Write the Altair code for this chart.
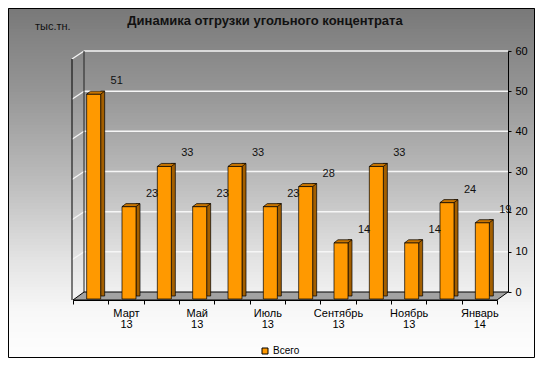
import json
import altair as alt
import pandas as pd

# ---- data ----
months = ["Февраль 13", "Март 13", "Апрель 13", "Май 13", "Июнь 13", "Июль 13",
          "Август 13", "Сентябрь 13", "Октябрь 13", "Ноябрь 13", "Декабрь 13", "Январь 14"]
values = [51, 23, 33, 23, 33, 23, 28, 14, 33, 14, 24, 19]
series_name = "Всего"
shown_labels = ["Март 13", "Май 13", "Июль 13", "Сентябрь 13", "Ноябрь 13", "Январь 14"]
y_ticks = [0, 10, 20, 30, 40, 50, 60]
grid_levels = [10, 20, 30, 40, 50, 60]
title_text = "Динамика отгрузки угольного  концентрата"
unit_text = "тыс.тн."

FONT = "Liberation Sans"
W, H = 424, 241
PAD = {"left": 65, "top": 43, "right": 38, "bottom": 66}
YMAX = 60.0

# background colour stops (pixel row of the picture -> grey level)
bg_stops = [(0, 0x76), (90, 0x95), (183, 0xbd), (257, 0xe2), (312, 0xf8), (367, 0xff)]


def grey_at(py):
    for (a, ca), (b, cb) in zip(bg_stops[:-1], bg_stops[1:]):
        if a <= py <= b:
            t = (py - a) / (b - a)
            g = int(round(ca + (cb - ca) * t))
            return "#%02x%02x%02x" % (g, g, g)
    return "#ffffff"


def px_to_val(py):
    return (H - py) / H * YMAX


strip_rows = []
step = 3
for py in range(-PAD["top"], H + PAD["bottom"], step):
    strip_rows.append({"v": px_to_val(py), "v2": px_to_val(min(py + step + 1, H + PAD["bottom"])),
                       "c": grey_at(py + PAD["top"] + 8 + step / 2)})
strips = pd.DataFrame(strip_rows)

bars = pd.DataFrame({"m": months, "v": values, "s": [series_name] * len(months)})
grid = pd.DataFrame({"v": grid_levels})
floor = pd.DataFrame({"v": [0]})
one = pd.DataFrame({"k": [0]})

yscale = alt.Scale(domain=[0, YMAX], nice=False)
xscale = alt.Scale(paddingInner=0, paddingOuter=0)

label_expr = "indexof(%s, datum.value) >= 0 ? split(datum.value, ' ') : ''" % json.dumps(
    shown_labels, ensure_ascii=False)

x_axis = alt.Axis(orient="bottom", offset=8, tickBand="extent", tickSize=4,
                  tickColor="black", domainColor="black", labelExpr=label_expr,
                  labelAngle=0, labelFontSize=11, labelLineHeight=11,
                  labelPadding=3, labelOverlap=False, labelColor="black",
                  labelBaseline="top", title=None, grid=False, zindex=1)
y_axis = alt.Axis(orient="right", offset=11, values=y_ticks, grid=False,
                  domainColor="black", tickColor="black", tickSize=3,
                  labelFontSize=11, labelColor="black", labelPadding=4, title=None,
                  zindex=1)

x_enc = alt.X("m:N", sort=months, scale=xscale, axis=x_axis)
y_enc = alt.Y("v:Q", scale=yscale, axis=y_axis)

bg = alt.Chart(strips).mark_rect().encode(
    y=y_enc, y2="v2:Q", fill=alt.Fill("c:N", scale=None),
    x=alt.value(-PAD["left"]), x2=alt.value(W + PAD["right"]))

border = alt.Chart(one).mark_rect(fill="transparent", stroke="black", strokeWidth=1).encode(
    x=alt.value(-PAD["left"] + 0.5), x2=alt.value(W + PAD["right"] - 0.5),
    y=alt.value(-PAD["top"] + 0.5), y2=alt.value(H + PAD["bottom"] - 0.5))

grid_rules = alt.Chart(grid).mark_rule(color="#f6f6f6", strokeWidth=1.5).encode(
    y=y_enc, x=alt.value(11), x2=alt.value(W + 11))

left_diag = alt.Chart(grid).mark_point(
    shape="M-1,8L11,0", size=4, filled=False, stroke="#f6f6f6", strokeWidth=1.3, opacity=1
).encode(y=y_enc, x=alt.value(0))

left_front = alt.Chart(one).mark_rule(color="black", strokeWidth=1).encode(
    x=alt.value(-1), y=alt.value(8), y2=alt.value(H + 8))
back_left = alt.Chart(one).mark_rule(color="#222222", strokeWidth=1).encode(
    x=alt.value(11), y=alt.value(0), y2=alt.value(H))

floor_shape = "M0,8L11,0L%d,0L%d,8Z" % (W + 11, W)
floor_layer = alt.Chart(floor).mark_point(
    shape=floor_shape, size=4, filled=True, fill="#a2a2a2", stroke="black",
    strokeWidth=1, opacity=1
).encode(y=y_enc, x=alt.value(0))

side = alt.Chart(bars).mark_bar(size=4, xOffset=12, yOffset=4, fill="#a35f00",
                                stroke="black", strokeWidth=0.7).encode(x=x_enc, y=y_enc)

front = alt.Chart(bars).mark_bar(size=14, xOffset=3, yOffset=7, stroke="black",
                                 strokeWidth=0.7, opacity=1).encode(
    x=x_enc, y=y_enc,
    color=alt.Color("s:N", scale=alt.Scale(range=["#ff9900"]),
                    legend=alt.Legend(orient="none", legendX=187, legendY=295, title=None,
                                      symbolType="square", symbolSize=36,
                                      symbolStrokeColor="black", symbolStrokeWidth=1,
                                      labelFontSize=10, labelColor="black",
                                      labelOffset=3, padding=0)))

top = alt.Chart(bars).mark_point(shape="M-4,7L10,7L14,4L0,4Z", size=4, filled=True,
                                 fill="#c77400", stroke="black", strokeWidth=0.7,
                                 opacity=1).encode(x=x_enc, y=y_enc)

labels = alt.Chart(bars).mark_text(dx=26, dy=-6, fontSize=11, color="#111111").encode(
    x=x_enc, y=y_enc, text="v:Q")

unit = alt.Chart(one).mark_text(align="left", baseline="alphabetic", fontSize=11,
                                color="#111111").encode(
    x=alt.value(-38), y=alt.value(-21), text=alt.value(unit_text))

chart = alt.layer(bg, grid_rules, left_diag, left_front, back_left, floor_layer,
                  side, front, top, labels, unit, border).properties(
    width=W, height=H,
    autosize=alt.AutoSizeParams(type="none"),
    padding=PAD,
    title=alt.Title(title_text, fontSize=13, fontWeight="bold", color="#111111",
                    anchor="middle", dx=-20, offset=-30, baseline="alphabetic"),
).configure(font=FONT, background="white").configure_view(stroke=None)

chart.save("out.html", embed_options={"renderer": "svg", "actions": False})
